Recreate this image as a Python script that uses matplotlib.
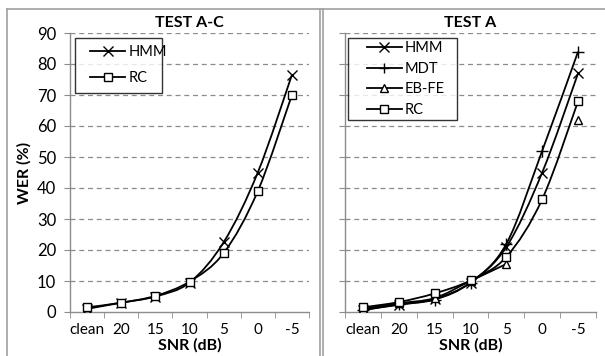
import numpy as np
import matplotlib.pyplot as plt
from matplotlib.path import Path
from matplotlib.patches import PathPatch
from matplotlib.lines import Line2D
from matplotlib.legend_handler import HandlerLine2D

plt.rcParams['font.family'] = ['Lato', 'DejaVu Sans']

snr = ["clean", "20", "15", "10", "5", "0", "-5"]

# TEST A-C
ac_hmm = [1.0, 3.0, 5.0, 9.5, 22.5, 45.0, 76.5]
ac_rc = [1.5, 3.0, 5.2, 9.8, 19.0, 39.0, 70.0]

# TEST A (EB-FE has no value at 0 dB)
a_hmm = [0.8, 2.3, 4.2, 9.5, 21.0, 45.0, 77.0]
a_mdt = [0.5, 2.5, 4.0, 9.5, 22.0, 52.0, 84.0]
a_ebfe = [1.0, 2.8, 4.5, 10.0, 15.5, np.nan, 62.0]
a_rc = [1.5, 3.2, 6.0, 10.2, 17.8, 36.4, 68.0]

GRAY = "#8c8c8c"


def smooth_line(ax, y):
    # excel-like smoothed line: catmull-rom segments as bezier curves
    x = np.arange(len(y), dtype=float)
    y = np.asarray(y, dtype=float)
    ok = ~np.isnan(y)
    runs, cur = [], []
    for i in range(len(y)):
        if ok[i]:
            cur.append(i)
        else:
            if cur:
                runs.append(cur)
            cur = []
    if cur:
        runs.append(cur)
    for r in runs:
        if len(r) < 2:
            continue
        p = np.column_stack([x[r], y[r]])
        verts = [p[0]]
        codes = [Path.MOVETO]
        n = len(p)
        for i in range(n - 1):
            p0 = p[i - 1] if i > 0 else p[i]
            p3 = p[i + 2] if i + 2 < n else p[i + 1]
            c1 = p[i] + (p[i + 1] - p0) / 6.0
            c2 = p[i + 1] - (p3 - p[i]) / 6.0
            verts += [c1, c2, p[i + 1]]
            codes += [Path.CURVE4] * 3
        ax.add_patch(PathPatch(Path(verts, codes), fill=False,
                               edgecolor="black", lw=1.3, zorder=3))


def draw_series(ax, y, marker, label, ms):
    smooth_line(ax, y)
    ax.plot(range(len(y)), y, linestyle="none", marker=marker, ms=ms,
            mfc="white" if marker in ("s", "^") else "none",
            mec="black", mew=1.0, zorder=4)
    return Line2D([], [], color="black", lw=1.3, marker=marker, ms=ms - 0.5,
                  mfc="white", mec="black", mew=1.0, label=label)


def style_axes(ax, title, show_y):
    ax.set_xlim(-0.5, 6.5)
    ax.set_ylim(0, 90)
    ax.set_yticks(range(0, 91, 10))
    for v in range(10, 91, 10):
        ax.axhline(v, color=GRAY, lw=0.9, ls=(0, (4, 3)), zorder=1)
    for s in ["top", "right"]:
        ax.spines[s].set_visible(False)
    for s in ["left", "bottom"]:
        ax.spines[s].set_color(GRAY)
        ax.spines[s].set_linewidth(1.0)
    ax.set_xticks(range(7))
    ax.set_xticklabels(snr, fontsize=11)
    ax.set_xticks(np.arange(-0.5, 7.0, 1.0), minor=True)
    ax.tick_params(axis="x", which="major", length=0, pad=8)
    ax.tick_params(axis="x", which="minor", length=4, color=GRAY, direction="out")
    ax.tick_params(axis="y", length=4, color=GRAY, labelsize=12, pad=6)
    if not show_y:
        ax.tick_params(axis="y", labelleft=False)
    ax.set_xlabel("SNR (dB)", fontsize=11.5, fontweight="bold", labelpad=1)
    ax.set_title(title, fontsize=11.5, fontweight="bold", pad=4)


def make_legend(ax, handles, box, xpad, borderpad, labelspacing):
    hmap = {h: HandlerLine2D(xpad=xpad) for h in handles}
    leg = ax.legend(handles=handles, handler_map=hmap, loc="upper left",
                    bbox_to_anchor=box, mode="expand", borderaxespad=0,
                    frameon=True, fancybox=False, edgecolor="black",
                    fontsize=10.5, handlelength=2.4 + xpad,
                    handletextpad=0.2, borderpad=borderpad,
                    labelspacing=labelspacing)
    leg.get_frame().set_linewidth(1.0)
    return leg


fig = plt.figure(figsize=(6.05, 3.56), dpi=100)
W, H = 605.0, 356.0
ax1 = fig.add_axes([70 / W, 1 - 312 / H, 239 / W, 279 / H])
ax2 = fig.add_axes([345 / W, 1 - 312 / H, 251 / W, 279 / H])

style_axes(ax1, "TEST A-C", True)
ax1.set_ylabel("WER (%)", fontsize=11.5, fontweight="bold", labelpad=4)
h1 = [draw_series(ax1, ac_hmm, "x", "HMM", 7),
      draw_series(ax1, ac_rc, "s", "RC", 6)]
make_legend(ax1, h1, (0.021, 0.0, 0.365, 0.982), 0.55, 0.5, 0.82)

style_axes(ax2, "TEST A", False)
h2 = [draw_series(ax2, a_hmm, "x", "HMM", 7),
      draw_series(ax2, a_mdt, "+", "MDT", 8),
      draw_series(ax2, a_ebfe, "^", "EB-FE", 6),
      draw_series(ax2, a_rc, "s", "RC", 6)]
make_legend(ax2, h2, (0.012, 0.0, 0.434, 0.982), 1.1, 0.2, 0.46)

# chart frames
fr = dict(color="#a0a0a0", lw=1.2, transform=fig.transFigure)
fig.add_artist(Line2D([7 / W, 7 / W], [0, 1 - 9 / H], **fr))
fig.add_artist(Line2D([7 / W, 1], [1 - 9 / H, 1 - 9 / H], **fr))
fig.add_artist(Line2D([320 / W, 320 / W], [0, 1 - 9 / H], **fr))
fig.add_artist(Line2D([323 / W, 323 / W], [0, 1 - 9 / H], **fr))

fig.savefig("out.png", dpi=100)
